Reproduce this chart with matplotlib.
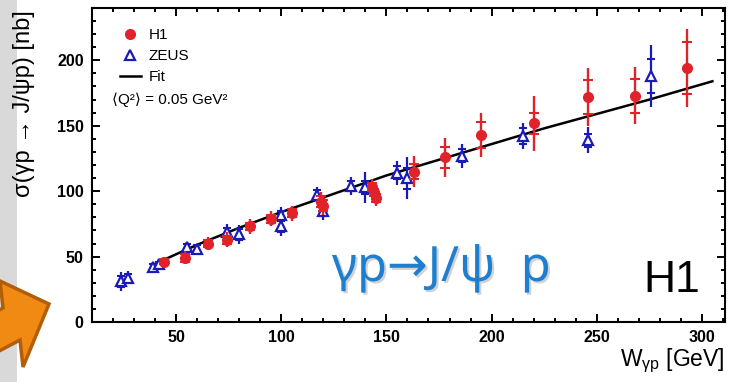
import numpy as np
import matplotlib
matplotlib.use('Agg')
import matplotlib.pyplot as plt
import matplotlib.patheffects as pe
from matplotlib.lines import Line2D
from matplotlib.patches import Polygon, Rectangle
from matplotlib.ticker import MultipleLocator

plt.rcParams['font.family'] = ['Liberation Sans', 'DejaVu Sans']
plt.rcParams['mathtext.fontset'] = 'custom'
plt.rcParams['mathtext.rm'] = 'Liberation Sans'
plt.rcParams['mathtext.it'] = 'Liberation Sans'

# H1 points: W [GeV], sigma [nb], stat error, total error
w_h1 = [44, 54, 65, 74, 85, 95, 105, 119, 120, 143, 144, 145, 163, 178, 195, 220, 246, 268, 293]
sig_h1 = [46, 49, 60, 63, 73, 79, 83, 92, 89, 103, 99, 95, 115, 126, 143, 152, 172, 173, 194]
stat_h1 = [2, 3, 3, 3, 3, 3, 3, 4, 4, 3, 3, 3, 6, 8, 10, 8, 13, 13, 20]
tot_h1 = [4, 5, 5, 6, 6, 6, 6, 7, 7, 6, 6, 6, 12, 15, 17, 21, 22, 22, 30]

# ZEUS points
w_zeus = [24, 27, 39, 42, 55, 60, 74, 80, 100, 100, 117, 120, 133, 140, 155, 160, 186, 215, 246, 276]
sig_zeus = [31, 34, 42, 44, 57, 56, 69, 67, 82, 73, 97, 85, 104, 103, 114, 110, 127, 142, 139, 188]
stat_zeus = [4, 3, 2, 2, 3, 3, 3, 4, 3, 4, 4, 4, 4, 5, 5, 8, 5, 6, 5, 13]
tot_zeus = [7, 5, 3, 3, 4, 4, 6, 7, 6, 7, 6, 7, 7, 12, 9, 16, 9, 10, 10, 24]

# fit curve
w_fit = [42, 60, 80, 100, 125, 150, 175, 200, 225, 250, 275, 305]
sig_fit = [46, 59, 72, 84, 98, 112, 124, 136, 148, 159, 170, 184]

RED = '#e0232b'
BLUE = '#1a1ab8'

fig = plt.figure(figsize=(7.29, 3.82), dpi=100)
fig.patch.set_facecolor('white')

# slide background strip and arrow at the left
fig.patches.append(Rectangle((0, 0), 17/729, 1, transform=fig.transFigure,
                             facecolor='#d9d9d9', edgecolor='none', zorder=0))
arrow_px = [(49, 304), (23, 367), (20, 340), (-33, 368), (-50, 336), (3, 308), (0, 281)]
arrow = Polygon([(x/729, 1 - y/382) for x, y in arrow_px], closed=True,
                transform=fig.transFigure, facecolor='#f08a12',
                edgecolor='#b25e08', linewidth=2.5, zorder=1)
fig.patches.append(arrow)

ax = fig.add_axes([92/729, 1 - 322/382, (725 - 92)/729, (322 - 8)/382])

ax.plot(w_fit, sig_fit, '-', color='black', lw=1.8, zorder=2)

w_z = np.array(w_zeus); s_z = np.array(sig_zeus)
ax.errorbar(w_z, s_z, yerr=tot_zeus, fmt='none', ecolor=BLUE, elinewidth=1.6, zorder=3)
ax.plot(w_z, s_z + np.array(stat_zeus), '_', color=BLUE, ms=6, mew=1.5, zorder=3)
ax.plot(w_z, s_z - np.array(stat_zeus), '_', color=BLUE, ms=6, mew=1.5, zorder=3)
ax.plot(w_z, s_z, '^', mfc='white', mec=BLUE, mew=1.6, ms=7, ls='none', zorder=4)

w_h = np.array(w_h1); s_h = np.array(sig_h1)
ax.errorbar(w_h, s_h, yerr=tot_h1, fmt='none', ecolor=RED, elinewidth=1.7, zorder=5)
ax.plot(w_h, s_h + np.array(stat_h1), '_', color=RED, ms=7, mew=1.5, zorder=5)
ax.plot(w_h, s_h - np.array(stat_h1), '_', color=RED, ms=7, mew=1.5, zorder=5)
ax.plot(w_h, s_h, 'o', color=RED, ms=7, ls='none', zorder=6)

ax.set_xlim(10, 311)
ax.set_ylim(0, 240)
ax.xaxis.set_major_locator(MultipleLocator(50))
ax.xaxis.set_minor_locator(MultipleLocator(10))
ax.yaxis.set_major_locator(MultipleLocator(50))
ax.yaxis.set_minor_locator(MultipleLocator(10))
ax.tick_params(which='both', direction='in', top=True, right=True, width=1.4)
ax.tick_params(which='major', length=6, pad=6, labelsize=11.5)
ax.tick_params(which='minor', length=3)
for lab in ax.get_xticklabels() + ax.get_yticklabels():
    lab.set_fontweight('bold')
for sp in ax.spines.values():
    sp.set_linewidth(1.5)

fig.text(24/729, 1 - 104/382, 'σ(γp → J/ψp) [nb]', rotation=90,
         ha='center', va='center', fontsize=17)
fig.text(725/729, 1 - 361/382, r'W$_{\mathrm{γp}}$ [GeV]', ha='right', va='center', fontsize=16.5)

handles = [Line2D([], [], marker='o', color=RED, ls='none', ms=7),
           Line2D([], [], marker='^', mfc='white', mec=BLUE, mew=1.6, ls='none', ms=7),
           Line2D([], [], color='black', lw=1.8)]
ax.legend(handles, ['H1', 'ZEUS', 'Fit'], loc='upper left', bbox_to_anchor=(0.034, 0.955),
          frameon=False, fontsize=11, handlelength=1.4, handletextpad=0.5,
          labelspacing=0.45, borderaxespad=0)
fig.text(112/729, 1 - 100/382, '⟨Q²⟩ = 0.05 GeV²', fontsize=11, va='center', ha='left')

big = fig.text(332/729, 1 - 268/382, 'γp→J/ψ  p', fontsize=35, color='#1f7fcf',
               family=['Noto Sans', 'DejaVu Sans'], va='center', ha='left')
big.set_path_effects([pe.withSimplePatchShadow(offset=(1.5, -1.5), shadow_rgbFace='#808080', alpha=0.35)])
fig.text(672/729, 1 - 281/382, 'H1', fontsize=32, ha='center', va='center')

fig.savefig('out.png', dpi=100)
